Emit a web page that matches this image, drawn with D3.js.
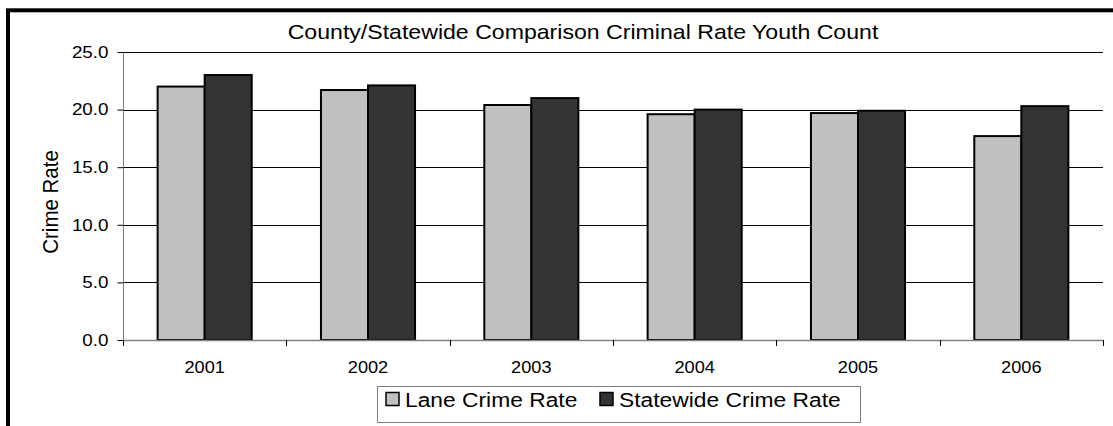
<!DOCTYPE html>
<html><head><meta charset="utf-8">
<script src="https://cdn.jsdelivr.net/npm/d3@7"></script>
<style>
html,body{margin:0;padding:0;background:#fff;}
svg{display:block;font-family:"Liberation Sans",Arial,sans-serif;}
</style></head>
<body>
<svg id="chart" width="1113" height="426"></svg>
<script>
const years = ["2001","2002","2003","2004","2005","2006"];
const laneRate = [22.0, 21.7, 20.4, 19.6, 19.7, 17.7];
const stateRate = [23.0, 22.1, 21.0, 20.0, 19.9, 20.3];
const seriesNames = ["Lane Crime Rate","Statewide Crime Rate"];
const seriesColors = ["#C0C0C0","#333333"];
const yTicks = [0,5,10,15,20,25];
const titleText = "County/Statewide Comparison Criminal Rate Youth Count";
const yTitle = "Crime Rate";

function stretch(sel, k){
  sel.each(function(){
    const w = this.getComputedTextLength();
    this.setAttribute("textLength", (w*k).toFixed(2));
    this.setAttribute("lengthAdjust","spacingAndGlyphs");
  });
}

const svg = d3.select("#chart");
const L = 123, R = 1103, T = 52, B = 340;

// outer frame
svg.append("rect").attr("x",8).attr("y",10.3).attr("width",1300).attr("height",600)
  .attr("fill","none").attr("stroke","#000").attr("stroke-width",4);

const x0 = d3.scaleBand().domain(years).range([L,R]).paddingInner(0.424).paddingOuter(0.212);
const x1 = d3.scaleBand().domain([0,1]).range([0,x0.bandwidth()]);
const y = d3.scaleLinear().domain([0,25]).range([B,T]);

// gridlines
svg.append("g").selectAll("line").data(yTicks.filter(d=>d>0)).join("line")
  .attr("x1",L).attr("x2",R).attr("y1",d=>Math.round(y(d))+0.5).attr("y2",d=>Math.round(y(d))+0.5)
  .attr("stroke","#000").attr("stroke-width",1);

// bars
const rows = years.map((yr,i)=>({yr, vals:[laneRate[i], stateRate[i]]}));
const g = svg.append("g");
rows.forEach(r=>{
  g.append("g").selectAll("rect").data(r.vals).join("rect")
    .attr("x",(d,j)=>x0(r.yr)+x1(j))
    .attr("y",d=>y(d))
    .attr("width",x1.bandwidth())
    .attr("height",d=>B-y(d))
    .attr("fill",(d,j)=>seriesColors[j])
    .attr("stroke","#000").attr("stroke-width",2);
});

// y axis
const yAxis = d3.axisLeft(y).tickValues(yTicks).tickSize(6).tickPadding(9).tickFormat(d3.format(".1f"));
const ya = svg.append("g").attr("transform",`translate(${L+0.5},0)`).call(yAxis);
ya.select(".domain").attr("stroke","#808080").attr("d",`M0,${T}V${B}`);
ya.selectAll(".tick line").attr("stroke","#000");
ya.selectAll(".tick text").attr("font-size",16.5).attr("fill","#000").attr("font-family","Liberation Sans, Arial, sans-serif");
stretch(ya.selectAll(".tick text"), 1.14);

// x axis: ticks at category boundaries
const bounds = d3.range(years.length+1).map(i=>L + i*(R-L)/years.length);
const xa = svg.append("g");
xa.append("line").attr("x1",L).attr("x2",R).attr("y1",B+0.5).attr("y2",B+0.5).attr("stroke","#808080").attr("stroke-width",1.5);
xa.selectAll("line.tk").data(bounds).join("line").attr("class","tk")
  .attr("x1",d=>Math.round(d)+0.5).attr("x2",d=>Math.round(d)+0.5).attr("y1",B).attr("y2",B+6).attr("stroke","#000");
const xl = xa.selectAll("text").data(years).join("text")
  .attr("x",d=>x0(d)+x0.bandwidth()/2).attr("y",373)
  .attr("text-anchor","middle").attr("font-size",16.5).text(d=>d);
stretch(xl, 1.1);

// title
const tt = svg.append("text").attr("x",583).attr("y",39).attr("text-anchor","middle")
  .attr("font-size",21).text(titleText);
stretch(tt, 1.1);

// y title
svg.append("text").attr("transform","translate(58,202) scale(1.12,1) rotate(-90)")
  .attr("text-anchor","middle").attr("font-size",20.5).text(yTitle);

// legend
const lg = svg.append("g");
lg.append("rect").attr("x",377.5).attr("y",386.5).attr("width",483).attr("height",36)
  .attr("fill","#fff").attr("stroke","#808080").attr("stroke-width",1);
const lx = [386, 600];
const ltx = [405, 619];
seriesNames.forEach((n,i)=>{
  lg.append("rect").attr("x",lx[i]).attr("y",392.5).attr("width",13).attr("height",13)
    .attr("fill",seriesColors[i]).attr("stroke","#000").attr("stroke-width",1.5);
  const t = lg.append("text").attr("x",ltx[i]).attr("y",406.5).attr("font-size",20).text(n);
  stretch(t, 1.14);
});
</script>
</body></html>
